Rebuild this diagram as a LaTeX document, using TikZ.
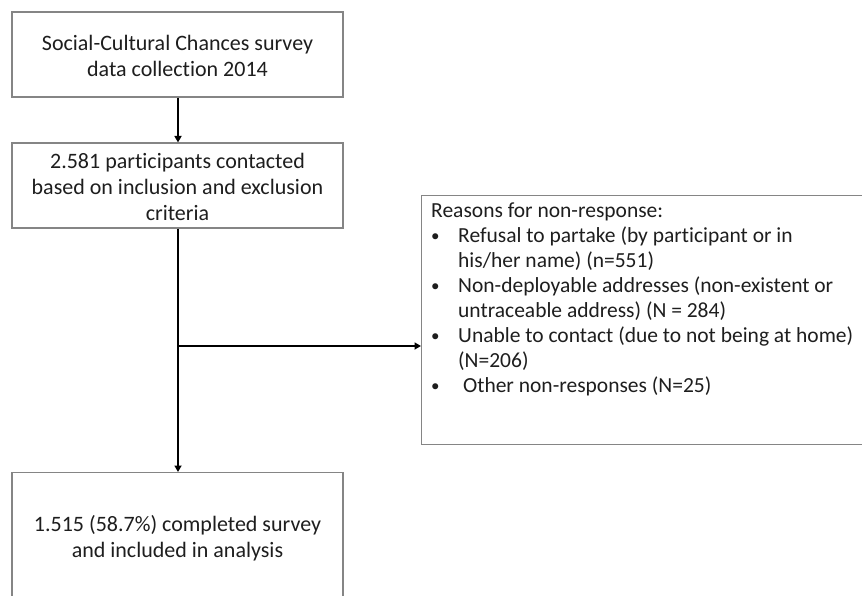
\documentclass[tikz,border=0pt]{standalone}
\usepackage{fontspec}
\setmainfont{Carlito}[Ligatures=NoCommon]
\usetikzlibrary{arrows.meta}
\definecolor{boxgray}{HTML}{858585}
\definecolor{txt}{HTML}{1E1E1E}
\newcommand{\mybul}{\makebox[27pt][l]{\fontsize{17}{25}\selectfont\raisebox{1.2pt}{\textbullet}}}
\tikzset{
  x=1pt, y=1pt,
  flowbox/.style={draw=boxgray, line width=1.1pt, rectangle, inner sep=0pt},
  flowtext/.style={font=\fontsize{22}{26}\selectfont, text=txt, align=center, inner sep=0pt},
  conn/.style={line width=2.4pt, black, -{Triangle[length=6.5pt,width=7pt]}}
}
\begin{document}
\begin{tikzpicture}
\useasboundingbox (0,0) rectangle (862,-596);
\clip (0,0) rectangle (862,-596);
\fill[white] (0,0) rectangle (862,-596);

\node[flowbox, minimum width=331pt, minimum height=85pt] (box1) at (177.5,-54.5) {};
\node[flowtext] (t1) at (177.5,-55.5) {Social-Cultural Chances survey\\data collection 2014};

\node[flowbox, minimum width=331pt, minimum height=85pt] (box2) at (177.5,-185.5) {};
\node[flowtext] (t2) at (177.5,-186.5) {2.581 participants contacted\\based on inclusion and exclusion\\criteria};

\node[flowbox, anchor=north, minimum width=331pt, minimum height=150pt] (box3) at (177.5,-472) {};
\node[flowtext] (t3) at (177.5,-538) {1.515 (58.7\%) completed survey\\and included in analysis};

\node[flowbox, anchor=north west, minimum width=460pt, minimum height=249pt] (reasons) at (421,-195) {};
\node[anchor=north west, inner sep=0pt, font=\fontsize{21.5}{25}\selectfont, text=txt, align=left] (t4) at (431,-203) {%
Reasons for non-response:\\
\mybul Refusal to partake (by participant or in\\
\hspace*{27pt}his/her name) (n=551)\\
\mybul Non-deployable addresses (non-existent or\\
\hspace*{27pt}untraceable address) (N = 284)\\
\mybul Unable to contact (due to not being at home)\\
\hspace*{27pt}(N=206)\\
\mybul\ Other non-responses (N=25)};

\coordinate (br) at ([xshift=0.5pt]box2.south |- 0,-346);
\draw[conn] ([xshift=0.5pt]box1.south) -- ([xshift=0.5pt]box2.north);
\draw[conn] ([xshift=0.5pt]box2.south) -- ([xshift=0.5pt]box3.north);
\draw[conn] (br) -- (reasons.west |- br);
\end{tikzpicture}
\end{document}
